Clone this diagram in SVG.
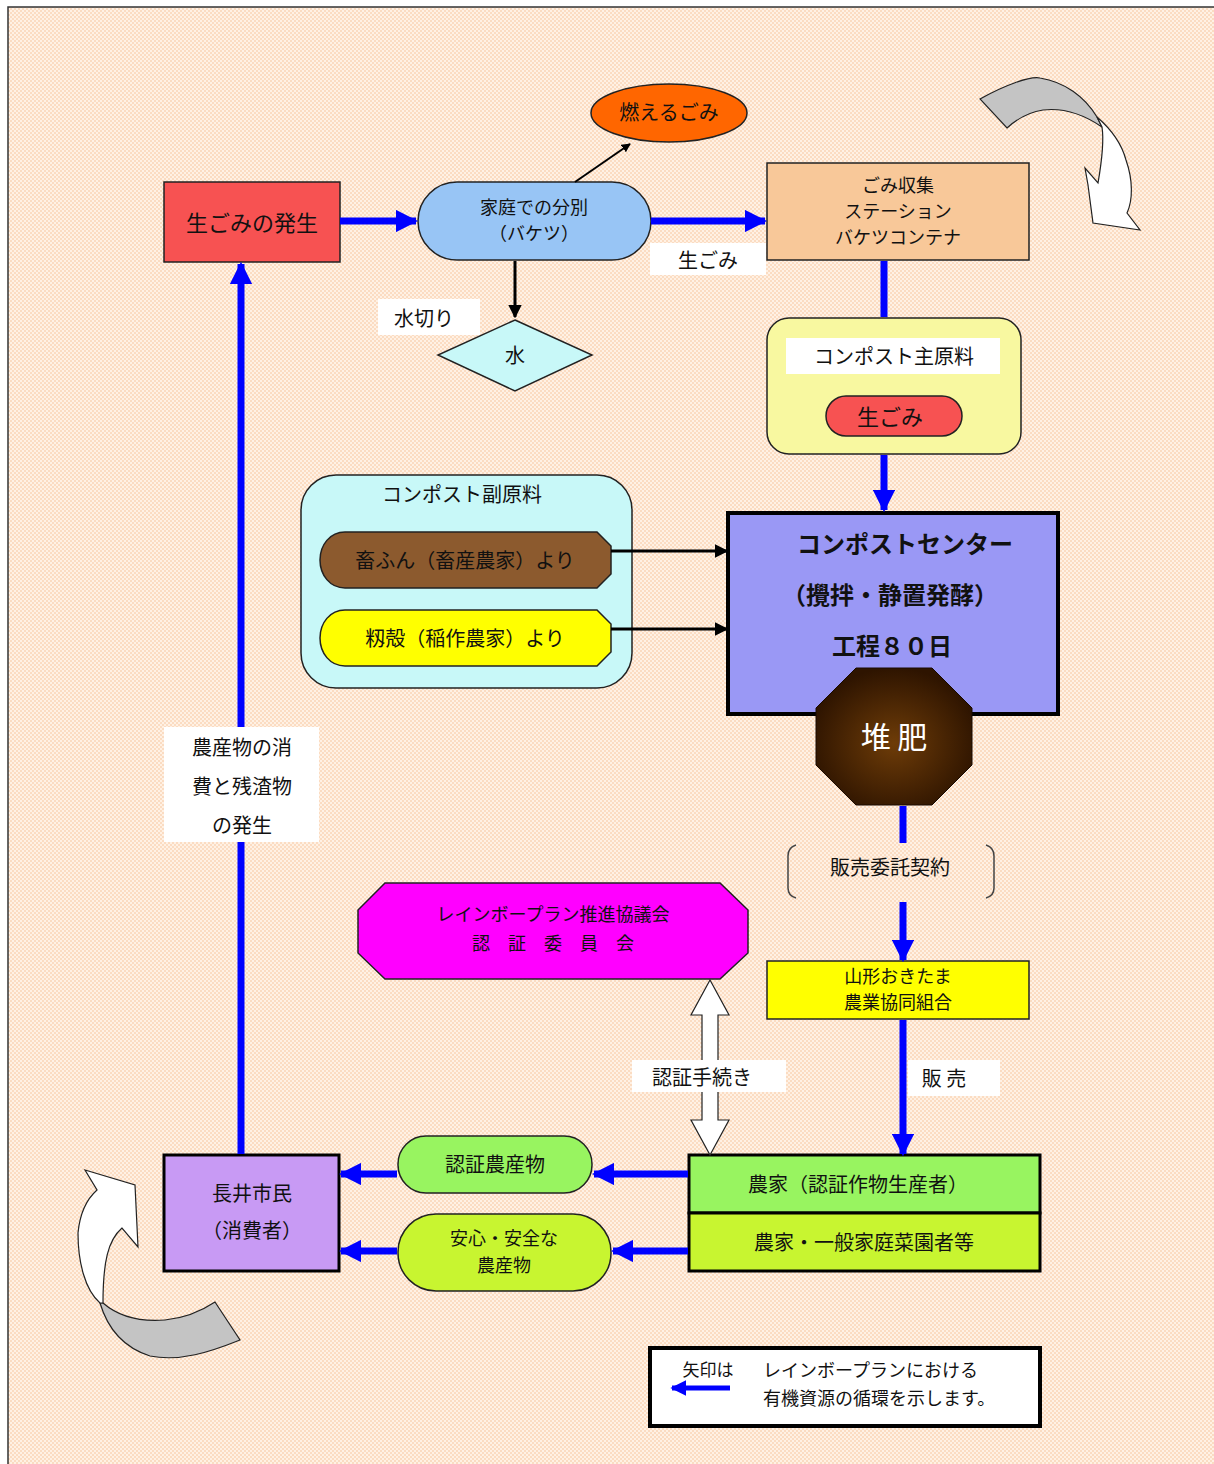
<svg xmlns="http://www.w3.org/2000/svg" width="1214" height="1464" viewBox="0 0 1214 1464">
<style>
text{font-family:"Noto Sans CJK JP","Noto Sans CJK SC",sans-serif;fill:#111;text-anchor:middle}
.t18{font-size:18px}
.t20{font-size:20px}
.t22{font-size:22px}
.nd{stroke:#222;stroke-width:1.5}
.lbl{fill:#fff}
.blue{stroke:#0000ff;stroke-width:7;fill:none}
.blk{stroke:#000;stroke-width:3;fill:none}
</style>
<defs>
<pattern id="dots" width="4" height="4" patternUnits="userSpaceOnUse">
<rect width="4" height="4" fill="#fbdcc2"/>
<rect x="0" y="0" width="2" height="2" fill="#fff1e4"/>
<rect x="2" y="2" width="2" height="2" fill="#fff1e4"/>
</pattern>
<marker id="bh" viewBox="0 0 10 10" refX="9" refY="5" markerWidth="3.2" markerHeight="3.2" orient="auto" markerUnits="strokeWidth">
<path d="M0,0 L10,5 L0,10 Z" fill="#0000ff"/>
</marker>
<marker id="kh" viewBox="0 0 10 10" refX="9" refY="5" markerWidth="4.5" markerHeight="4.5" orient="auto" markerUnits="strokeWidth">
<path d="M0,0 L10,5 L0,10 Z" fill="#000"/>
</marker>
<radialGradient id="compost" cx="50%" cy="55%" r="55%">
<stop offset="0" stop-color="#6e3c08"/>
<stop offset="1" stop-color="#2e1400"/>
</radialGradient>
</defs>

<!-- background and frame -->
<rect x="0" y="0" width="1214" height="1464" fill="#fff"/>
<rect x="8" y="7" width="1210" height="1470" fill="url(#dots)" stroke="#333" stroke-width="1.5"/>

<!-- cycle arrows -->
<g id="cycle-top">
<path d="M980,99 C1005,85 1030,76 1040,78 C1065,82 1085,97 1097,117 L1102,127 C1080,112 1060,108 1043,110 C1030,112 1018,118 1007,128 Z" fill="#c4c4c4" stroke="#222" stroke-width="1.2"/>
<path d="M1097,117 C1112,130 1122,145 1126,160 C1133,180 1133,200 1127,213 L1140,230 L1093,223 L1088,185 L1085,168 L1098,183 C1102,160 1104,140 1102,127 Z" fill="#fff" stroke="#222" stroke-width="1.2"/>
</g>
<g id="cycle-bottom">
<path d="M100,1303 C108,1330 125,1348 150,1356 C180,1362 210,1352 240,1340 L215,1302 C200,1312 185,1318 165,1320 C140,1322 118,1316 103,1303 Z" fill="#c4c4c4" stroke="#222" stroke-width="1.2"/>
<path d="M85,1170 L135,1185 L138,1247 L122,1228 C108,1240 103,1262 103,1303 L100,1303 C85,1290 78,1262 78,1233 C80,1212 88,1198 97,1190 Z" fill="#fff" stroke="#222" stroke-width="1.2"/>
</g>

<g id="n-namagomi-hassei">
<rect class="nd" x="164" y="182" width="176" height="80" fill="#f75252"/>
<text class="t22" x="252" y="231">生ごみの発生</text>
</g>

<g id="n-bunbetsu">
<rect class="nd" x="418" y="182" width="233" height="78" rx="39" fill="#98c5f5"/>
<text class="t18" x="534" y="214">家庭での分別</text>
<text class="t18" x="534" y="240">（バケツ）</text>
</g>

<g id="n-moeru">
<ellipse class="nd" cx="669" cy="113" rx="78" ry="29" fill="#ff6600"/>
<text class="t20" x="669" y="120">燃えるごみ</text>
</g>

<g id="n-mizu">
<polygon class="nd" points="515,320 592,355 515,391 438,355" fill="#c8f8f8"/>
<text class="t20" x="515" y="363">水</text>
</g>

<g id="n-station">
<rect class="nd" x="767" y="163" width="262" height="97" fill="#f8c899"/>
<text class="t18" x="898" y="192">ごみ収集</text>
<text class="t18" x="898" y="218">ステーション</text>
<text class="t18" x="898" y="244">バケツコンテナ</text>
</g>

<g id="n-shugenryo">
<rect class="nd" x="767" y="318" width="254" height="136" rx="22" fill="#f8f8a0"/>
<rect class="lbl" x="786" y="338" width="214" height="36"/>
<text class="t20" x="894" y="364">コンポスト主原料</text>
<rect class="nd" x="826" y="396" width="136" height="40" rx="20" fill="#f75252"/>
<text class="t22" x="890" y="425">生ごみ</text>
</g>

<g id="n-fukugenryo">
<rect class="nd" x="301" y="475" width="331" height="213" rx="35" fill="#c8f8f8"/>
<text class="t20" x="462" y="502">コンポスト副原料</text>
<path class="nd" d="M345,532 L597,532 L611,546 L611,574 L597,588 L345,588 C330,588 320,575 320,560 C320,545 330,532 345,532 Z" fill="#8c5a2e"/>
<text class="t20" x="465" y="568">畜ふん（畜産農家）より</text>
<path class="nd" d="M345,610 L597,610 L611,624 L611,652 L597,666 L345,666 C330,666 320,653 320,638 C320,623 330,610 345,610 Z" fill="#ffff00"/>
<text class="t20" x="465" y="646">籾殻（稲作農家）より</text>
</g>

<g id="n-center">
<rect x="728" y="513" width="330" height="201" fill="#9a98f5" stroke="#000" stroke-width="4"/>
<text font-size="24" font-weight="bold" x="905" y="553">コンポストセンター</text>
<text font-size="24" font-weight="bold" x="890" y="604">（攪拌・静置発酵）</text>
<text font-size="24" font-weight="bold" x="892" y="655">工程８０日</text>
</g>

<g id="n-taihi">
<polygon points="856,668 932,668 972,708 972,765 932,805 856,805 816,765 816,708" fill="url(#compost)" stroke="#1a0a00" stroke-width="1"/>
<text x="894" y="748" font-size="30" style="fill:#fff">堆 肥</text>
</g>

<g id="n-kyogikai">
<polygon class="nd" points="385,883 720,883 748,910 748,953 720,979 385,979 358,953 358,910" fill="#ff00ff"/>
<text class="t18" x="553" y="921">レインボープラン推進協議会</text>
<text class="t18" x="553" y="950" xml:space="preserve">認　証　委　員　会</text>
</g>

<g id="n-ja">
<rect class="nd" x="767" y="961" width="262" height="58" fill="#ffff00"/>
<text class="t18" x="898" y="983">山形おきたま</text>
<text class="t18" x="898" y="1009">農業協同組合</text>
</g>

<g id="n-nouka">
<rect x="689" y="1155" width="351" height="58" fill="#98f460" stroke="#000" stroke-width="3"/>
<text class="t20" x="858" y="1192">農家（認証作物生産者）</text>
<rect x="689" y="1213" width="351" height="58" fill="#c8f530" stroke="#000" stroke-width="3"/>
<text class="t20" x="864" y="1250">農家・一般家庭菜園者等</text>
</g>

<g id="n-ninsho-nousanbutsu">
<rect class="nd" x="398" y="1136" width="194" height="57" rx="28" fill="#98f460"/>
<text class="t20" x="495" y="1172">認証農産物</text>
</g>

<g id="n-anshin">
<rect class="nd" x="398" y="1214" width="213" height="77" rx="38" fill="#c8f530"/>
<text class="t18" x="504" y="1245">安心・安全な</text>
<text class="t18" x="504" y="1272">農産物</text>
</g>

<g id="n-shimin">
<rect x="164" y="1155" width="175" height="116" fill="#c89af4" stroke="#000" stroke-width="3"/>
<text class="t20" x="252" y="1201">長井市民</text>
<text class="t20" x="252" y="1238">（消費者）</text>
</g>

<!-- connectors -->
<g id="connectors">
<line class="blue" x1="340" y1="221" x2="416" y2="221" marker-end="url(#bh)"/>
<line class="blue" x1="651" y1="221" x2="765" y2="221" marker-end="url(#bh)"/>
<line x1="575" y1="182" x2="630" y2="144" stroke="#000" stroke-width="2" marker-end="url(#kh)"/>
<line class="blk" x1="515" y1="261" x2="515" y2="317" marker-end="url(#kh)"/>
<line class="blue" x1="884" y1="261" x2="884" y2="317"/>
<line class="blue" x1="884" y1="455" x2="884" y2="510" marker-end="url(#bh)"/>
<line class="blk" x1="611" y1="551" x2="727" y2="551" marker-end="url(#kh)"/>
<line class="blk" x1="611" y1="629" x2="727" y2="629" marker-end="url(#kh)"/>
<line class="blue" x1="903" y1="806" x2="903" y2="843"/>
<line class="blue" x1="903" y1="902" x2="903" y2="960" marker-end="url(#bh)"/>
<line class="blue" x1="903" y1="1020" x2="903" y2="1154" marker-end="url(#bh)"/>
<line class="blue" x1="688" y1="1174" x2="594" y2="1174" marker-end="url(#bh)"/>
<line class="blue" x1="688" y1="1251" x2="613" y2="1251" marker-end="url(#bh)"/>
<line class="blue" x1="397" y1="1174" x2="341" y2="1174" marker-end="url(#bh)"/>
<line class="blue" x1="397" y1="1251" x2="341" y2="1251" marker-end="url(#bh)"/>
<line class="blue" x1="241" y1="1154" x2="241" y2="264" marker-end="url(#bh)"/>
<!-- certification procedure: hollow double arrow -->
<path d="M710,980 L729,1015 L718,1015 L718,1120 L729,1120 L710,1155 L691,1120 L702,1120 L702,1015 L691,1015 Z" fill="#fff" stroke="#222" stroke-width="1.2"/>
</g>

<!-- connector labels -->
<g id="labels">
<rect class="lbl" x="650" y="243" width="116" height="32"/>
<text class="t20" x="708" y="268">生ごみ</text>
<rect class="lbl" x="378" y="299" width="102" height="36"/>
<text class="t20" x="424" y="326">水切り</text>
<rect class="lbl" x="164" y="727" width="155" height="115"/>
<text class="t20" x="242" y="755">農産物の消</text>
<text class="t20" x="242" y="794">費と残渣物</text>
<text class="t20" x="242" y="833">の発生</text>
<path d="M796,845 C789,847 788,852 788,856 L788,888 C788,892 789,896 796,898" fill="none" stroke="#444" stroke-width="1.5"/>
<path d="M986,845 C993,847 994,852 994,856 L994,888 C994,892 993,896 986,898" fill="none" stroke="#444" stroke-width="1.5"/>
<text class="t20" x="890" y="875">販売委託契約</text>
<rect class="lbl" x="632" y="1060" width="154" height="32"/>
<text class="t20" x="702" y="1085">認証手続き</text>
<rect class="lbl" x="908" y="1060" width="92" height="36"/>
<text class="t20" x="944" y="1086">販 売</text>
</g>

<g id="legend">
<rect x="650" y="1348" width="390" height="78" fill="#fff" stroke="#000" stroke-width="4"/>
<line x1="730" y1="1388" x2="672" y2="1388" stroke="#0000ff" stroke-width="5" marker-end="url(#bh)"/>
<text x="708" y="1376" font-size="17">矢印は</text>
<text x="763" y="1377" font-size="18" style="text-anchor:start">レインボープランにおける</text>
<text x="763" y="1405" font-size="18" style="text-anchor:start">有機資源の循環を示します。</text>
</g>
</svg>
